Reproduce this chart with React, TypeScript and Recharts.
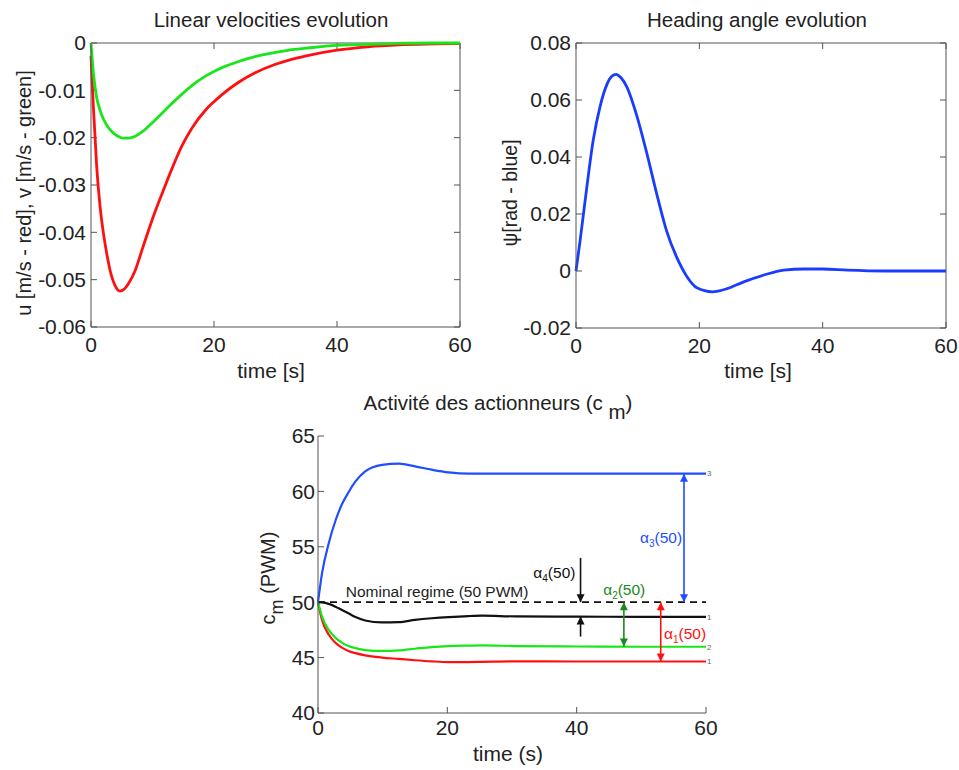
import React from 'react';
import {
  LineChart,
  Line,
  XAxis,
  YAxis,
  ReferenceLine,
  ReferenceDot,
} from 'recharts';

// --- linear velocities (top left)
const velTime = [0, 0.38, 0.92, 1.47, 2, 2.55, 3.1, 3.9, 4.7, 5.3, 6.1, 7.2, 8.3, 9.35, 10.4, 11.8, 13.15, 14.8, 16.4, 18.6, 20, 21.3, 24, 26.7, 30, 32.2, 35, 40, 45, 50, 56, 60];
const uRed = [-0.0027, -0.0133, -0.026, -0.0345, -0.04, -0.0444, -0.048, -0.0512, -0.0524, -0.0521, -0.0508, -0.048, -0.0437, -0.0396, -0.0357, -0.031, -0.0266, -0.0217, -0.018, -0.0142, -0.0124, -0.0109, -0.0083, -0.0063, -0.0045, -0.0036, -0.0027, -0.0015, -0.0008, -0.0004, -0.0002, -0.0001];
const vGreen = [0, -0.0062, -0.0115, -0.0142, -0.016, -0.0173, -0.0183, -0.0193, -0.0199, -0.0201, -0.0201, -0.0197, -0.0188, -0.0176, -0.0163, -0.0145, -0.0128, -0.0108, -0.009, -0.007, -0.006, -0.0052, -0.0039, -0.0029, -0.002, -0.0015, -0.0011, -0.0005, -0.0003, -0.0001, 0, 0];
const velTicks = [-0.06, -0.05, -0.04, -0.03, -0.02, -0.01, 0];

// --- heading angle (top right)
const headTime = [0, 0.65, 1.73, 2.8, 3.9, 5, 5.8, 6.5, 7.3, 8.2, 9.9, 11.5, 13.1, 14.7, 16.4, 18, 19.6, 22.1, 24.5, 27.2, 30.5, 33.7, 37, 40, 44, 50, 60];
const psiBlue = [0, 0.0104, 0.029, 0.046, 0.0577, 0.0654, 0.0683, 0.069, 0.0678, 0.0648, 0.0542, 0.0412, 0.027, 0.014, 0.0045, -0.002, -0.0059, -0.0073, -0.0062, -0.0038, -0.0014, 0.0003, 0.0007, 0.0007, 0.0003, 0, 0];
const psiTicks = [-0.02, 0, 0.02, 0.04, 0.06, 0.08];

// --- actuator activity (bottom)
const actTime = [0, 0.62, 1.65, 2.7, 3.7, 4.7, 5.8, 7.3, 9.9, 12.5, 15, 17.6, 20.2, 23.3, 25.4, 30.5, 40, 50, 60];
const cm1Red = [50, 48.4, 47.08, 46.34, 45.9, 45.6, 45.4, 45.2, 45, 44.88, 44.76, 44.66, 44.6, 44.6, 44.62, 44.66, 44.65, 44.65, 44.65];
const cm2Green = [50, 48.7, 47.5, 46.78, 46.35, 46.04, 45.85, 45.68, 45.6, 45.65, 45.8, 45.95, 46.04, 46.08, 46.1, 46.04, 46, 45.98, 45.98];
const cm3Blue = [50, 52.6, 55.3, 57.35, 58.84, 59.9, 60.9, 61.8, 62.4, 62.5, 62.26, 61.96, 61.72, 61.6, 61.6, 61.6, 61.6, 61.6, 61.6];
const cm4Black = [50, 49.98, 49.85, 49.6, 49.3, 49, 48.66, 48.35, 48.18, 48.2, 48.4, 48.55, 48.66, 48.75, 48.78, 48.72, 48.7, 48.68, 48.68];
const cmTicks = [40, 45, 50, 55, 60, 65];
const timeTicks = [0, 20, 40, 60];
const nominal = 50;

const RED = '#ff1010';
const GREEN = '#19e619';
const BLUE = '#1f4dff';
const DARKGREEN = '#1a8a1a';
const BLACK = '#111111';
const AXIS = '#555555';
const TEXT = '#222222';
const FONT = '"Liberation Sans", Arial, sans-serif';

const gapArrows = [
  { t: 56.6, from: 50, to: 61.6, color: BLUE, both: true },
  { t: 47.3, from: 46, to: 50, color: DARKGREEN, both: true },
  { t: 53, from: 44.65, to: 50, color: RED, both: true },
  { t: 40.6, from: 54, to: 50, color: BLACK, both: false },
  { t: 40.6, from: 46.9, to: 48.7, color: BLACK, both: false },
];
const alphaLabels = [
  { t: 49.8, y: 55.8, sub: '3', color: BLUE },
  { t: 44.1, y: 51.1, sub: '2', color: DARKGREEN },
  { t: 53.5, y: 47.2, sub: '1', color: RED },
  { t: 33.3, y: 52.7, sub: '4', color: BLACK },
];
const endLabels = [
  { y: 61.6, text: '3' },
  { y: 48.68, text: '1' },
  { y: 45.98, text: '2' },
  { y: 44.65, text: '1' },
];

const velData = velTime.map((t, i) => ({ t, u: uRed[i], v: vGreen[i] }));
const headData = headTime.map((t, i) => ({ t, psi: psiBlue[i] }));
const actData = actTime.map((t, i) => ({
  t,
  c1: cm1Red[i],
  c2: cm2Green[i],
  c3: cm3Blue[i],
  c4: cm4Black[i],
}));

const TICK = 6;

const arrowShape = (color: string, both: boolean) => (p: any) => {
  const { x1, y1, x2, y2 } = p;
  const dx = x2 - x1;
  const dy = y2 - y1;
  const len = Math.hypot(dx, dy) || 1;
  const ux = dx / len;
  const uy = dy / len;
  const head = (hx: number, hy: number, ex: number, ey: number) => {
    const bx = hx - ex * 8;
    const by = hy - ey * 8;
    const px = -ey * 4;
    const py = ex * 4;
    return `${hx},${hy} ${bx + px},${by + py} ${bx - px},${by - py}`;
  };
  return (
    <g>
      <line x1={x1} y1={y1} x2={x2} y2={y2} stroke={color} strokeWidth={1.6} />
      <polygon points={head(x2, y2, ux, uy)} fill={color} />
      {both && <polygon points={head(x1, y1, -ux, -uy)} fill={color} />}
    </g>
  );
};

// inward tick marks, matlab style
const yTickMarks = (ticks: number[], both: boolean) =>
  ticks.map((v) => (
    <ReferenceLine
      key={`yt${v}`}
      y={v}
      ifOverflow="visible"
      shape={(p: any) => {
        const l = Math.min(p.x1, p.x2);
        const r = Math.max(p.x1, p.x2);
        return (
          <g stroke={AXIS} strokeWidth={1}>
            <line x1={l} x2={l + TICK} y1={p.y1} y2={p.y1} />
            {both && <line x1={r - TICK} x2={r} y1={p.y1} y2={p.y1} />}
          </g>
        );
      }}
    />
  ));

const xTickMarks = (ticks: number[], both: boolean) =>
  ticks.map((v) => (
    <ReferenceLine
      key={`xt${v}`}
      x={v}
      ifOverflow="visible"
      shape={(p: any) => {
        const top = Math.min(p.y1, p.y2);
        const bot = Math.max(p.y1, p.y2);
        return (
          <g stroke={AXIS} strokeWidth={1}>
            <line x1={p.x1} x2={p.x1} y1={bot} y2={bot - TICK} />
            {both && <line x1={p.x1} x2={p.x1} y1={top} y2={top + TICK} />}
          </g>
        );
      }}
    />
  ));

const tickStyle = (size: number) => ({ fill: TEXT, fontSize: size, fontFamily: FONT });

export default function App() {
  return (
    <div
      style={{
        position: 'absolute',
        left: 0,
        top: 0,
        width: 959,
        height: 770,
        background: '#fff',
        fontFamily: FONT,
      }}
    >
      {/* top left */}
      <div style={{ position: 'absolute', left: 0, top: 0 }}>
        <LineChart width={480} height={390} data={velData} margin={{ top: 43, right: 20, bottom: 0, left: 0 }}>
          <XAxis
            dataKey="t"
            type="number"
            domain={[0, 60]}
            ticks={timeTicks}
            interval={0}
            height={63}
            tickSize={-6}
            tickMargin={16}
            tickLine={false}
            stroke={AXIS}
            tick={tickStyle(21)}
          />
          <YAxis
            type="number"
            domain={[-0.06, 0]}
            ticks={velTicks}
            interval={0}
            width={91}
            tickSize={-6}
            tickMargin={11}
            tickLine={false}
            stroke={AXIS}
            tick={tickStyle(21)}
          />
          <ReferenceLine y={0} stroke={AXIS} ifOverflow="visible" />
          <ReferenceLine x={60} stroke={AXIS} ifOverflow="visible" />
          {yTickMarks(velTicks, true)}
          {xTickMarks(timeTicks, true)}
          <Line type="monotone" dataKey="u" stroke={RED} strokeWidth={2.8} dot={false} isAnimationActive={false} />
          <Line type="monotone" dataKey="v" stroke={GREEN} strokeWidth={2.8} dot={false} isAnimationActive={false} />
        </LineChart>
      </div>

      {/* top right */}
      <div style={{ position: 'absolute', left: 480, top: 0 }}>
        <LineChart width={479} height={390} data={headData} margin={{ top: 43, right: 13, bottom: 0, left: 0 }}>
          <XAxis
            dataKey="t"
            type="number"
            domain={[0, 60]}
            ticks={timeTicks}
            interval={0}
            height={62}
            tickSize={-6}
            tickMargin={16}
            tickLine={false}
            stroke={AXIS}
            tick={tickStyle(21)}
          />
          <YAxis
            type="number"
            domain={[-0.02, 0.08]}
            ticks={psiTicks}
            interval={0}
            width={96}
            tickSize={-6}
            tickMargin={11}
            tickLine={false}
            stroke={AXIS}
            tick={tickStyle(21)}
          />
          <ReferenceLine y={0.08} stroke={AXIS} ifOverflow="visible" />
          <ReferenceLine x={60} stroke={AXIS} ifOverflow="visible" />
          {yTickMarks(psiTicks, true)}
          {xTickMarks(timeTicks, true)}
          <Line type="monotone" dataKey="psi" stroke="#1a3cff" strokeWidth={2.8} dot={false} isAnimationActive={false} />
        </LineChart>
      </div>

      {/* bottom */}
      <div style={{ position: 'absolute', left: 240, top: 390 }}>
        <LineChart width={480} height={380} data={actData} margin={{ top: 46, right: 14, bottom: 0, left: 0 }}>
          <XAxis
            dataKey="t"
            type="number"
            domain={[0, 60]}
            ticks={timeTicks}
            interval={0}
            height={57}
            tickSize={-6}
            tickMargin={13}
            tickLine={false}
            stroke={AXIS}
            tick={tickStyle(21)}
          />
          <YAxis
            type="number"
            domain={[40, 65]}
            ticks={cmTicks}
            interval={0}
            width={78}
            tickSize={-6}
            tickMargin={9}
            tickLine={false}
            stroke={AXIS}
            tick={tickStyle(21)}
          />
          {yTickMarks(cmTicks, false)}
          {xTickMarks(timeTicks, false)}
          <ReferenceLine y={nominal} stroke={BLACK} strokeWidth={1.8} strokeDasharray="7 5" />
          <Line type="monotone" dataKey="c1" stroke={RED} strokeWidth={2.2} dot={false} isAnimationActive={false} />
          <Line type="monotone" dataKey="c2" stroke={GREEN} strokeWidth={2.2} dot={false} isAnimationActive={false} />
          <Line type="monotone" dataKey="c4" stroke={BLACK} strokeWidth={2.2} dot={false} isAnimationActive={false} />
          <Line type="monotone" dataKey="c3" stroke={BLUE} strokeWidth={2.2} dot={false} isAnimationActive={false} />
          {gapArrows.map((a, i) => (
            <ReferenceLine
              key={`arr${i}`}
              segment={[
                { x: a.t, y: a.from },
                { x: a.t, y: a.to },
              ]}
              ifOverflow="visible"
              shape={arrowShape(a.color, a.both)}
            />
          ))}
          <ReferenceDot
            x={4.3}
            y={51}
            r={0}
            ifOverflow="visible"
            shape={(p: any) => (
              <text x={p.cx} y={p.cy} dy="0.35em" fontSize={15.5} fill={TEXT} fontFamily={FONT}>
                Nominal regime (50 PWM)
              </text>
            )}
          />
          {alphaLabels.map((l, i) => (
            <ReferenceDot
              key={`al${i}`}
              x={l.t}
              y={l.y}
              r={0}
              ifOverflow="visible"
              shape={(p: any) => (
                <text x={p.cx} y={p.cy} dy="0.35em" fontSize={15.5} fill={l.color} fontFamily={FONT}>
                  α
                  <tspan fontSize={10} dy={4}>{l.sub}</tspan>
                  <tspan dy={-4}>(50)</tspan>
                </text>
              )}
            />
          ))}
          {endLabels.map((l, i) => (
            <ReferenceDot
              key={`el${i}`}
              x={60}
              y={l.y}
              r={0}
              ifOverflow="visible"
              shape={(p: any) => (
                <text x={p.cx + 1} y={p.cy} dy="0.35em" fontSize={8} fill="#666" fontFamily={FONT}>
                  {l.text}
                </text>
              )}
            />
          ))}
        </LineChart>
      </div>

      {/* titles and axis labels */}
      <svg
        width={959}
        height={770}
        style={{ position: 'absolute', left: 0, top: 0, pointerEvents: 'none' }}
        fontFamily={FONT}
        fill={TEXT}
      >
        <text x={271} y={27} fontSize={20.5} textAnchor="middle">Linear velocities evolution</text>
        <text x={757} y={27} fontSize={20.5} textAnchor="middle">Heading angle evolution</text>
        <text x={498} y={410} fontSize={20.5} textAnchor="middle">
          Activité des actionneurs (c <tspan dy={9}>m</tspan>
          <tspan dy={-9}>)</tspan>
        </text>
        <text x={271} y={378} fontSize={21} textAnchor="middle">time [s]</text>
        <text x={758} y={378} fontSize={21} textAnchor="middle">time [s]</text>
        <text x={508} y={761} fontSize={21} textAnchor="middle">time (s)</text>
        <text transform="translate(24,193) rotate(-90)" dy="0.35em" fontSize={20} textAnchor="middle">
          u [m/s - red], v [m/s - green]
        </text>
        <text transform="translate(510,193) rotate(-90)" dy="0.35em" fontSize={19.5} textAnchor="middle">
          ψ[rad - blue]
        </text>
        <text transform="translate(268,578) rotate(-90)" dy="0.35em" fontSize={20} textAnchor="middle">
          c<tspan fontSize={18} dy={8}>m</tspan>
          <tspan dy={-8}> (PWM)</tspan>
        </text>
      </svg>
    </div>
  );
}
